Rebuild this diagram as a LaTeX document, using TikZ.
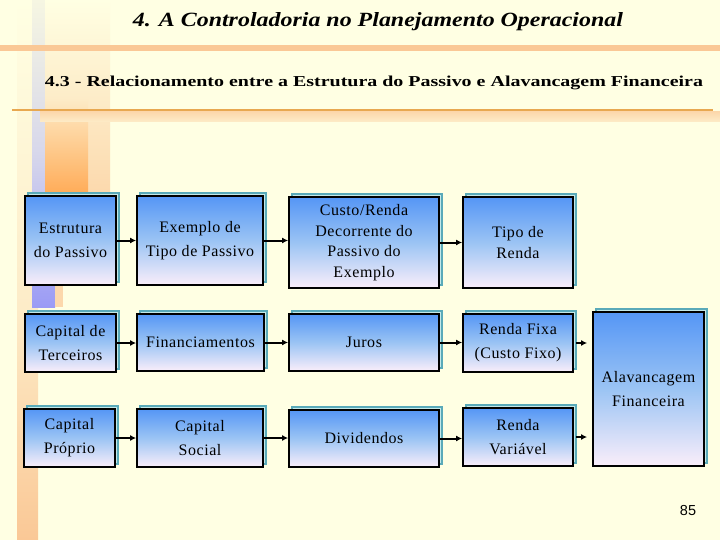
\documentclass[tikz,border=0pt]{standalone}
\usepackage{fontspec}
\usepackage{graphicx}
\setmainfont{Liberation Serif}
\newfontfamily\boxfont[LetterSpace=3.5]{Liberation Serif}
\newfontfamily\numfont{Liberation Sans}
\usetikzlibrary{shadows,arrows.meta}
\definecolor{bg}{RGB}{255,255,227}
\definecolor{peach}{RGB}{250,200,150}
\definecolor{lineor}{RGB}{232,168,80}
\definecolor{shadowc}{RGB}{90,170,185}
\definecolor{shadowf}{RGB}{195,232,232}
\definecolor{btop}{RGB}{85,150,245}
\definecolor{bmid}{RGB}{155,196,244}
\definecolor{bbot}{RGB}{250,238,250}
\definecolor{paleor}{RGB}{253,236,200}
\definecolor{lightor}{RGB}{252,216,172}
\definecolor{lav}{RGB}{155,155,245}
\definecolor{lavmid}{RGB}{215,215,235}
\definecolor{lavpale}{RGB}{246,246,226}
\definecolor{orng}{RGB}{255,170,85}
\tikzset{
  box/.style={draw=black, line width=1.8pt, top color=btop, bottom color=bbot, middle color=bmid,
    general shadow={fill=shadowf, draw=shadowc, line width=1.2pt, shadow xshift=3pt, shadow yshift=3pt},
    align=center, inner sep=0pt, font=\boxfont\fontsize{16}{24}\selectfont},
  conn/.style={line width=2pt, -{Latex[length=6pt,width=6pt]}},
}
\begin{document}
\begin{tikzpicture}[x=1pt,y=-1pt]
\useasboundingbox (0,0) rectangle (720,540);
\fill[bg] (0,0) rectangle (720,540);
% left decorative stripes
\shade[top color=bg, bottom color=lightor, middle color=paleor] (43,0) rectangle (110,196);
\shade[top color=bg, bottom color=paleor] (17,0) rectangle (32,307);
\shade[top color=paleor, bottom color=peach] (17,307) rectangle (38,540);
\shade[top color=lavpale, bottom color=lav, middle color=lavmid] (32,0) rectangle (55,307);
\shade[top color=bg, bottom color=orng, middle color=paleor] (45,0) rectangle (88,196);
\fill[lightor] (55,196) rectangle (63,307);
% horizontal bands
\fill[peach] (0,45) rectangle (720,51);
\shade[top color=lightor, bottom color=paleor] (40,112) rectangle (720,122);
\fill[lineor] (12,109) rectangle (713,111);
% titles
\node[anchor=base, inner sep=0pt] (title) at (378,27)
  {\resizebox{490pt}{14pt}{\bfseries\itshape 4. A Controladoria no Planejamento Operacional}};
\node[anchor=base, inner sep=0pt] (subtitle) at (374,86.5)
  {\resizebox{658pt}{10.5pt}{\bfseries 4.3 - Relacionamento entre a Estrutura do Passivo e Alavancagem Financeira}};
% row 1
\node[box, minimum width=91pt, minimum height=89pt] (b11) at (70.5,240.5) {Estrutura\\do Passivo};
\node[box, minimum width=126pt, minimum height=89pt] (b12) at (200,240.5) {Exemplo de\\Tipo de Passivo};
\node[box, minimum width=150pt, minimum height=91pt, font=\boxfont\fontsize{16}{20.5}\selectfont] (b13) at (364,242.5) {Custo/Renda\\Decorrente do\\Passivo do\\Exemplo};
\node[box, minimum width=110pt, minimum height=91pt, font=\boxfont\fontsize{16}{20.5}\selectfont] (b14) at (518,242.5) {Tipo de\\Renda};
% row 2
\node[box, minimum width=91pt, minimum height=58pt] (b21) at (70.5,343) {Capital de\\Terceiros};
\node[box, minimum width=127pt, minimum height=57pt] (b22) at (200.5,342.5) {Financiamentos};
\node[box, minimum width=150pt, minimum height=57pt] (b23) at (364,342.5) {Juros};
\node[box, minimum width=110pt, minimum height=58pt] (b24) at (518,343) {Renda Fixa\\(Custo Fixo)};
% row 3
\node[box, minimum width=91pt, minimum height=58pt] (b31) at (69.5,438) {Capital\\Próprio};
\node[box, minimum width=126pt, minimum height=58pt] (b32) at (200,438) {Capital\\Social};
\node[box, minimum width=150pt, minimum height=57pt] (b33) at (364,438.5) {Dividendos};
\node[box, minimum width=110pt, minimum height=58pt] (b34) at (518,437) {Renda\\Variável};
% leverage
\node[box, minimum width=111pt, minimum height=154pt, font=\boxfont\fontsize{16}{23.5}\selectfont] (alav) at (648.5,389) {Alavancagem\\Financeira};
% arrows
\draw[conn] (b11.east) -- (b11.east -| b12.west);
\draw[conn] (b12.east) -- (b12.east -| b13.west);
\draw[conn] (b13.east) -- (b13.east -| b14.west);
\draw[conn] (b21.east) -- (b21.east -| b22.west);
\draw[conn] (b22.east) -- (b22.east -| b23.west);
\draw[conn] (b23.east) -- (b23.east -| b24.west);
\draw[conn] (b31.east) -- (b31.east -| b32.west);
\draw[conn] (b32.east) -- (b32.east -| b33.west);
\draw[conn] (b33.east) -- (b33.east -| b34.west);
\draw[conn, shorten <=2pt, shorten >=5pt] (b24.east) -- (b24.east -| alav.west);
\draw[conn, shorten <=2pt, shorten >=5pt] (b34.east) -- (b34.east -| alav.west);
% page number
\node[anchor=base, inner sep=0pt] (pnum) at (688,515) {\numfont\fontsize{14.5}{16}\selectfont 85};
\end{tikzpicture}
\end{document}
